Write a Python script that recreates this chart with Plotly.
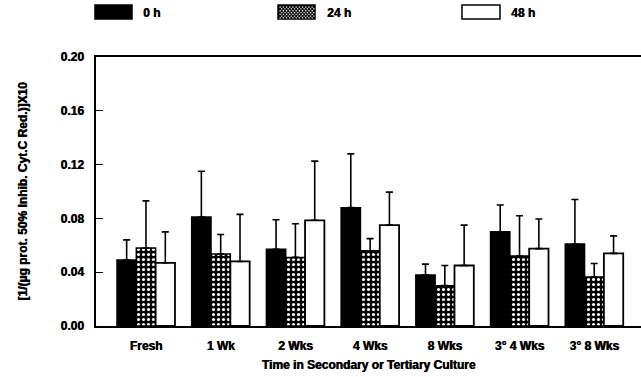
import plotly.graph_objects as go

categories = ["Fresh", "1 Wk", "2 Wks", "4 Wks", "8 Wks", "3° 4 Wks", "3° 8 Wks"]
series_names = ["0 h", "24 h", "48 h"]
vals_0h = [0.049, 0.081, 0.057, 0.088, 0.038, 0.070, 0.061]
err_0h = [0.015, 0.034, 0.022, 0.040, 0.008, 0.020, 0.033]
vals_24h = [0.058, 0.0535, 0.051, 0.056, 0.030, 0.052, 0.0365]
err_24h = [0.035, 0.0145, 0.025, 0.009, 0.015, 0.030, 0.010]
vals_48h = [0.047, 0.048, 0.0786, 0.075, 0.045, 0.0575, 0.054]
err_48h = [0.023, 0.035, 0.044, 0.0245, 0.030, 0.022, 0.013]
y_ticks = [0.00, 0.04, 0.08, 0.12, 0.16, 0.20]

W, H = 641, 377
L, R, T, B = 96, 0, 57, 51
PW, PH = W - L - R, H - T - B

def px(x):
    return (x - L) / PW

def py(y):
    return (H - B - y) / PH

FONT = dict(family="Liberation Sans, Arial, sans-serif", size=12, color="black",
            weight="bold", shadow="0.6px 0px 0px black")

fig = go.Figure()
err_style = dict(type="data", symmetric=False, color="black", thickness=1.6, width=3.5)

fig.add_trace(go.Bar(
    name=series_names[0], x=categories, y=vals_0h,
    marker=dict(color="black", line=dict(color="black", width=1.5)),
    error_y=dict(array=err_0h, arrayminus=[0] * len(err_0h), **err_style),
))
fig.add_trace(go.Bar(
    name=series_names[1], x=categories, y=vals_24h,
    marker=dict(color="black", line=dict(color="black", width=1.5),
                pattern=dict(shape=".", fgcolor="white", bgcolor="black",
                             size=5, solidity=0.3, fillmode="replace")),
    error_y=dict(array=err_24h, arrayminus=[0] * len(err_24h), **err_style),
))
fig.add_trace(go.Bar(
    name=series_names[2], x=categories, y=vals_48h,
    marker=dict(color="white", line=dict(color="black", width=1.8)),
    error_y=dict(array=err_48h, arrayminus=[0] * len(err_48h), **err_style),
))

# Legend drawn as shapes + text
shapes = []
annotations = []
leg = [(95, 132, "black", "black"), (278, 315, "black", "black"), (462, 500, "white", "black")]
text_x = [141, 325, 509]
y0, y1 = 5, 19
for i, (x0, x1, fill, line) in enumerate(leg):
    shapes.append(dict(type="rect", xref="paper", yref="paper",
                       x0=px(x0), x1=px(x1), y0=py(y1), y1=py(y0),
                       fillcolor=fill, line=dict(color=line, width=1.5)))
    annotations.append(dict(xref="paper", yref="paper", x=px(text_x[i]), y=py(13),
                            text=series_names[i], showarrow=False, xanchor="left",
                            yanchor="middle", font=FONT))
# dotted fill for 24 h legend swatch
path = ""
row = 0
yy = y0 + 1.5
while yy < y1 - 1:
    xx = 279.5 + (1.6 if row % 2 else 0)
    while xx < 313.5:
        path += "M{:.5f},{:.5f}L{:.5f},{:.5f}L{:.5f},{:.5f}L{:.5f},{:.5f}Z".format(
            px(xx), py(yy), px(xx + 1.3), py(yy), px(xx + 1.3), py(yy + 1.3), px(xx), py(yy + 1.3))
        xx += 3.2
    yy += 1.8
    row += 1
shapes.append(dict(type="path", xref="paper", yref="paper", path=path,
                   fillcolor="white", line=dict(width=0)))

fig.update_layout(
    width=W, height=H,
    margin=dict(l=L, r=R, t=T, b=B, pad=0),
    paper_bgcolor="white", plot_bgcolor="white",
    barmode="group", bargap=0.224, bargroupgap=0,
    showlegend=False,
    font=FONT,
    shapes=shapes,
    annotations=annotations,
    xaxis=dict(range=[-0.669, 6.626], showline=True, linecolor="black", linewidth=1.5,
               mirror=True, ticks="", showgrid=False, tickfont=FONT, ticklabelstandoff=8,
               title=dict(text="Time in Secondary or Tertiary Culture", font=FONT, standoff=8)),
    yaxis=dict(range=[0, 0.20], tickvals=y_ticks, tickformat=".2f",
               showline=True, linecolor="black", linewidth=1.5, showgrid=False,
               ticks="inside", ticklen=7, tickwidth=1.2, tickcolor="black",
               tickfont=FONT, zeroline=False, ticklabelstandoff=8,
               title=dict(text="[1/(µg prot. 50% Inhib. Cyt.C Red.)]X10", font=FONT, standoff=30)),
)

fig.write_html("out.html")
